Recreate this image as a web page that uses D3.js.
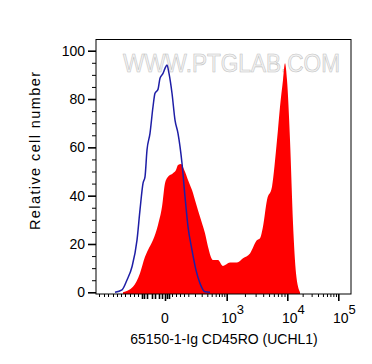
<!DOCTYPE html>
<html><head><meta charset="utf-8">
<script src="https://cdn.jsdelivr.net/npm/d3@7/dist/d3.min.js"></script>
<style>body{margin:0;background:#fff}svg{display:block}text{font-family:"Liberation Sans",Arial,sans-serif}</style>
</head><body><svg id="c" width="372" height="364"></svg>
<script>
// histogram channel (0-255 display bins) vs relative cell number
const redChannel = [27,37,44,49,52,57,62,66,69,72,77,80,82,85,89,92,96,100,104,109,112,117,122,127,134,141,147,154,161,164,167,171,176,181,184,187,189,191,194,197,200,204];
const redValue   = [0,2.3,7.9,14.7,17.5,21.6,27.9,35.4,45.1,47.8,49.3,50.6,52.7,53.1,49.9,46.5,42.3,36.8,31.3,24.4,18.9,13.4,13.4,10.9,12.3,12.3,14.1,16.1,21.6,22.4,27.2,38.2,43.7,63,76.8,87.9,94.8,87.9,63,28.6,7.9,0];
const blueChannel = [19,26,31,36,41,44,47,49,51,54,57,59,62,64,67,69,71,73,76,79,82,86,89,92,96,100,104,109,114];
const blueValue   = [0,1.0,5.1,10.6,21.6,34.1,45.1,47.8,58.9,65.8,76.8,82.4,84,88.6,90.6,92.7,94.1,90.6,82.4,71.3,65.8,53.4,39.6,27.2,17.5,9.2,3.7,0.2,0];
const yTicks = [0,20,40,60,80,100];
const xMajorChannel = [69,130.7,191.3,242.3];
const xMajorBase = ["0","10","10","10"];
const xMajorExp  = ["","3","4","5"];
const xMinorNearZero = [46,48,51,56,59,63,66,71,73];
const xMinorLow = [3,8,12,17,21,25,29,34,38,42,76,80,84,88,92.3,99,105.7,111.3,115.7,119.7,123,125.7,128.3];

const svg = d3.select("#c");
const L=96,R=351,T=39.5,B=294;
const x = d3.scaleLinear().domain([0,255]).range([L,R]);
const y = d3.scaleLinear().domain([-0.7,104.64]).range([B,T]);

// watermark
svg.append("text").attr("x",123).attr("y",72).attr("font-size",25)
  .attr("textLength",217).attr("lengthAdjust","spacingAndGlyphs")
  .attr("fill","#f3f3f3").attr("stroke","#c2c2c2").attr("stroke-width",0.6)
  .text("WWW.PTGLAB.COM");

const red = redChannel.map((c,i)=>[c,redValue[i]]);
const blue = blueChannel.map((c,i)=>[c,blueValue[i]]);

svg.append("path").datum(red)
  .attr("d", d3.area().x(d=>x(d[0])).y0(y(-0.7)).y1(d=>y(d[1])).curve(d3.curveMonotoneX))
  .attr("fill","#ff0000");
svg.append("path").datum(blue)
  .attr("d", d3.line().x(d=>x(d[0])).y(d=>y(d[1])).curve(d3.curveMonotoneX))
  .attr("fill","none").attr("stroke","#1e1ea6").attr("stroke-width",1.5);

// frame
svg.append("rect").attr("x",L).attr("y",T).attr("width",R-L).attr("height",B-T)
  .attr("fill","none").attr("stroke","#000").attr("stroke-width",1);

// y axis
const yMinor = d3.range(0,105,5).filter(v=>v%20!==0);
svg.append("g").attr("transform",`translate(${L},0)`)
  .call(d3.axisLeft(y).tickValues(yMinor).tickSize(4).tickFormat(""))
  .call(g=>g.select(".domain").remove());
const ya = svg.append("g").attr("transform",`translate(${L},0)`)
  .call(d3.axisLeft(y).tickValues(yTicks).tickSize(8).tickPadding(3))
  .call(g=>g.select(".domain").remove());
ya.selectAll("line").attr("stroke-width",1.6);
ya.selectAll("text").attr("font-size",14).attr("fill","#000").attr("font-family",'"Liberation Sans",Arial,sans-serif');

// x axis minor ticks
const xMinorDec = [];
for (let k=2;k<=9;k++){
  xMinorDec.push(xMajorChannel[1]+Math.log10(k)*(xMajorChannel[2]-xMajorChannel[1]));
  xMinorDec.push(xMajorChannel[2]+Math.log10(k)*(xMajorChannel[3]-xMajorChannel[2]));
}
svg.append("g").attr("transform",`translate(0,${B})`)
  .call(d3.axisBottom(x).tickValues(xMinorLow.concat(xMinorDec)).tickSize(3).tickFormat(""))
  .call(g=>g.select(".domain").remove());
svg.append("g").attr("transform",`translate(0,${B})`)
  .call(d3.axisBottom(x).tickValues(xMinorNearZero).tickSize(5).tickFormat(""))
  .call(g=>g.select(".domain").remove())
  .selectAll("line").attr("stroke-width",1.6);
const xa = svg.append("g").attr("transform",`translate(0,${B})`)
  .call(d3.axisBottom(x).tickValues(xMajorChannel).tickSize(7).tickFormat(""))
  .call(g=>g.select(".domain").remove());
xa.selectAll("line").attr("stroke-width",1.6);
xMajorChannel.forEach((c,i)=>{
  const t = svg.append("text").attr("x",x(c)+(i?6:0)).attr("y",322.5).attr("text-anchor","middle")
    .attr("font-size",14).attr("fill","#000");
  t.append("tspan").text(xMajorBase[i]);
  if (xMajorExp[i]) t.append("tspan").attr("dy",-9).attr("font-size",13).text(xMajorExp[i]);
});

// axis titles
svg.append("text").attr("x",224).attr("y",344).attr("text-anchor","middle").attr("font-size",14)
  .text("65150-1-Ig CD45RO (UCHL1)");
svg.append("text").attr("transform","translate(40,151) rotate(-90)").attr("text-anchor","middle")
  .attr("font-size",14.5).attr("textLength",158).attr("lengthAdjust","spacing").text("Relative cell number");
</script></body></html>
